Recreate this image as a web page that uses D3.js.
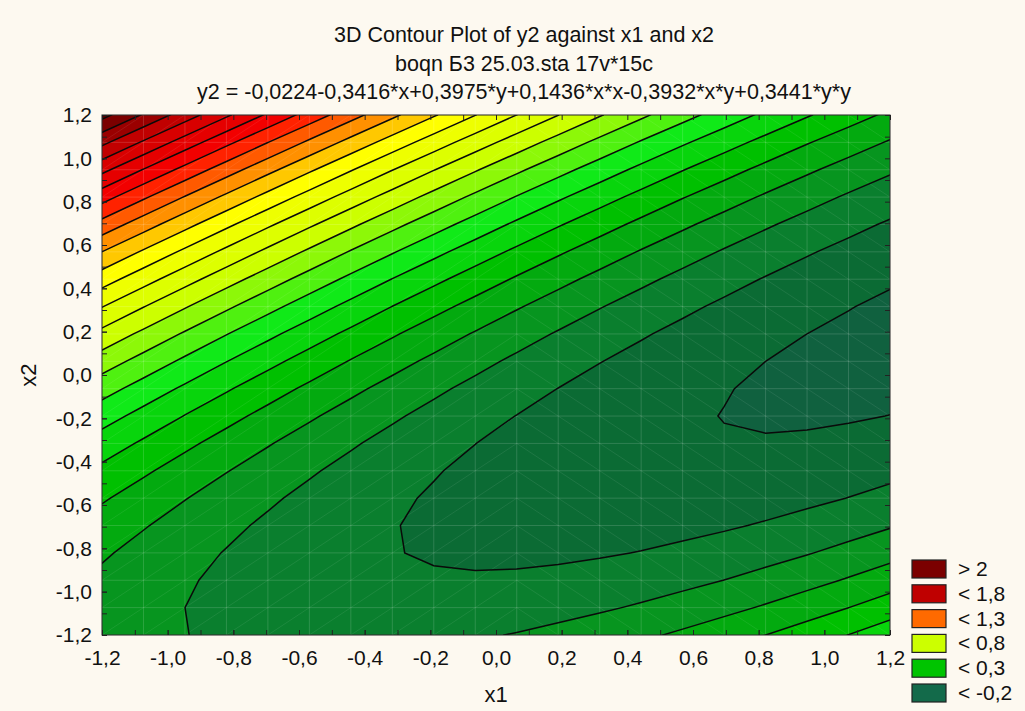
<!DOCTYPE html>
<meta charset="utf-8">
<head>
  <title>3D Contour Plot of y2 against x1 and x2</title>
</head>
<style>
body { margin: 0; background: #fdf9f0; }
text { font-family: "Liberation Sans", Arial, sans-serif; fill: #111; }
.tick line { stroke: #222; }
</style>
<body>
<script src="https://d3js.org/d3.v7.min.js"></script>
<script>

  // fitted surface, coefficients as printed in the title:
  // const, x, y, x*x, x*y, y*y
  var coef = [-0.0224, -0.3416, 0.3975, 0.1436, -0.3932, 0.3441];
  var gridN = 20; // sample points per axis

  // contour levels
  var levels = [-0.2, -0.1, 0.0, 0.1, 0.2, 0.3, 0.4, 0.5, 0.6, 0.7, 0.8, 0.9,
                1.0, 1.1, 1.2, 1.3, 1.4, 1.5, 1.6, 1.7, 1.8, 1.9, 2.0, 2.1];

  // colour stops of the spectrum (value at band middle -> colour)
  var stopValues = [-0.25, -0.15, -0.05, 0.25, 0.45, 0.75, 1.05, 1.15, 1.25, 1.35, 1.45,
                    1.55, 1.75, 1.85, 1.95, 2.05];
  var stopColors = ["#10613f", "#0b6b34", "#0a7f2e", "#00c000", "#10ea18", "#ccff00",
                    "#ffff00", "#ffc800", "#ff9000", "#ff5a00", "#ff2200",
                    "#f20000", "#d80000", "#c00000", "#9a0000", "#7b0000"];

  var majorTicks = [-1.2, -1.0, -0.8, -0.6, -0.4, -0.2, 0.0, 0.2, 0.4, 0.6, 0.8, 1.0, 1.2];
  var minorTicks = [-1.1, -0.9, -0.7, -0.5, -0.3, -0.1, 0.1, 0.3, 0.5, 0.7, 0.9, 1.1];

  var legendLabels = ["> 2", "< 1,8", "< 1,3", "< 0,8", "< 0,3", "< -0,2"];
  var legendColors = ["#7b0000", "#bf0000", "#ff6a00", "#ccff00", "#00c400", "#136a4a"];

  var titles = ["3D Contour Plot of y2 against x1 and x2",
                "boqn \u04113 25.03.sta 17v*15c",
                "y2 = -0,0224-0,3416*x+0,3975*y+0,1436*x*x-0,3932*x*y+0,3441*y*y"];

  var width = 1025, height = 711;
  var pLeft = 102, pRight = 890, pTop = 115, pBottom = 635;

  var svg = d3.select("body").append("svg")
    .attr("width", width)
    .attr("height", height);

  svg.append("rect").attr("width", width).attr("height", height).attr("fill", "#fdf9f0");

  var x = d3.scaleLinear().domain([-1.2, 1.2]).range([pLeft, pRight]);
  var y = d3.scaleLinear().domain([-1.2, 1.2]).range([pBottom, pTop]);
  var color = d3.scaleLinear().domain(stopValues).range(stopColors).interpolate(d3.interpolateRgb);

  var loc = d3.formatLocale({decimal: ",", thousands: " ", grouping: [3], currency: ["", ""], minus: "-"});
  var fmt = loc.format(".1f");

  // sample the surface, rows from top (x2 = 1.2) down
  function f(a, b) {
    return coef[0] + coef[1]*a + coef[2]*b + coef[3]*a*a + coef[4]*a*b + coef[5]*b*b;
  }
  var step = 2.4 / (gridN - 1);
  var values = new Array(gridN * gridN);
  for (var j = 0; j < gridN; j++) {
    for (var i = 0; i < gridN; i++) {
      values[j * gridN + i] = f(-1.2 + i * step, 1.2 - j * step);
    }
  }

  var contours = d3.contours().size([gridN, gridN]).thresholds(levels)(values);

  // contour grid coords -> pixels (sample i sits at i + 0.5)
  var gx = d3.scaleLinear().domain([0.5, gridN - 0.5]).range([pLeft, pRight]);
  var gy = d3.scaleLinear().domain([0.5, gridN - 0.5]).range([pTop, pBottom]);
  var path = d3.geoPath(d3.geoTransform({
    point: function(px, py) { this.stream.point(gx(px), gy(py)); }
  }));

  svg.append("clipPath").attr("id", "plotclip")
    .append("rect")
    .attr("x", pLeft).attr("y", pTop)
    .attr("width", pRight - pLeft).attr("height", pBottom - pTop);

  var g = svg.append("g").attr("clip-path", "url(#plotclip)");

  g.append("rect")
    .attr("x", pLeft).attr("y", pTop)
    .attr("width", pRight - pLeft).attr("height", pBottom - pTop)
    .attr("fill", color(-0.25));

  g.selectAll("path.band")
    .data(contours)
    .enter().append("path")
    .attr("class", "band")
    .attr("d", path)
    .attr("fill", function(d) { return color(d.value + 0.05); });

  // faint mesh of the fitting grid
  var mesh = g.append("g")
    .attr("stroke", "#ffffff")
    .attr("fill", "none");
  for (var k = 0; k < gridN; k++) {
    mesh.append("line")
      .attr("x1", gx(k + 0.5)).attr("x2", gx(k + 0.5))
      .attr("y1", pTop).attr("y2", pBottom)
      .attr("stroke-opacity", 0.15);
    mesh.append("line")
      .attr("y1", gy(k + 0.5)).attr("y2", gy(k + 0.5))
      .attr("x1", pLeft).attr("x2", pRight)
      .attr("stroke-opacity", 0.15);
  }
  for (var cj = 0; cj < gridN - 1; cj++) {
    for (var ci = 0; ci < gridN - 1; ci++) {
      var leftHalf = ci < (gridN - 1) / 2;
      mesh.append("line")
        .attr("x1", gx(ci + 0.5)).attr("x2", gx(ci + 1.5))
        .attr("y1", gy(leftHalf ? cj + 1.5 : cj + 0.5))
        .attr("y2", gy(leftHalf ? cj + 0.5 : cj + 1.5))
        .attr("stroke-opacity", 0.08);
    }
  }

  g.selectAll("path.line")
    .data(contours)
    .enter().append("path")
    .attr("class", "line")
    .attr("d", path)
    .attr("fill", "none")
    .attr("stroke", "#0a0a0a")
    .attr("stroke-width", 1.5);

  // axes: inward ticks every 0.1
  var allTicks = majorTicks.concat(minorTicks);

  var xAxis = svg.append("g")
    .attr("transform", "translate(0," + pBottom + ")")
    .call(d3.axisBottom(x).tickValues(majorTicks).tickSize(-5).tickPadding(15).tickFormat(fmt));
  xAxis.select(".domain").remove();
  xAxis.selectAll("text").style("font-size", "21px").attr("fill", "#111");

  var yAxis = svg.append("g")
    .attr("transform", "translate(" + pLeft + ",0)")
    .call(d3.axisLeft(y).tickValues(majorTicks).tickSize(-5).tickPadding(10).tickFormat(fmt));
  yAxis.select(".domain").remove();
  yAxis.selectAll("text").style("font-size", "21px").attr("fill", "#111");

  [[d3.axisBottom(x), "translate(0," + pBottom + ")"],
   [d3.axisLeft(y), "translate(" + pLeft + ",0)"],
   [d3.axisTop(x), "translate(0," + pTop + ")"],
   [d3.axisRight(y), "translate(" + pRight + ",0)"]].forEach(function(a) {
    var ax = svg.append("g")
      .attr("transform", a[1])
      .call(a[0].tickValues(allTicks).tickSize(-5).tickFormat(""));
    ax.select(".domain").remove();
  });

  svg.append("rect")
    .attr("x", pLeft).attr("y", pTop)
    .attr("width", pRight - pLeft).attr("height", pBottom - pTop)
    .attr("fill", "none")
    .attr("stroke", "#222")
    .attr("stroke-width", 1);

  // titles
  svg.selectAll("text.title")
    .data(titles)
    .enter().append("text")
    .attr("class", "title")
    .attr("x", 524)
    .attr("y", function(d, i) { return 42 + i * 28.5; })
    .attr("text-anchor", "middle")
    .style("font-size", "21.5px")
    .text(function(d) { return d; });

  svg.append("text")
    .attr("x", (pLeft + pRight) / 2)
    .attr("y", 702)
    .attr("text-anchor", "middle")
    .style("font-size", "22px")
    .text("x1");

  svg.append("text")
    .attr("transform", "translate(36," + ((pTop + pBottom) / 2) + ") rotate(-90)")
    .attr("text-anchor", "middle")
    .style("font-size", "22px")
    .text("x2");

  // legend
  var legend = svg.append("g").attr("transform", "translate(912,560)");
  var item = legend.selectAll("g")
    .data(legendLabels)
    .enter().append("g")
    .attr("transform", function(d, i) { return "translate(0," + (i * 24.8) + ")"; });
  item.append("rect")
    .attr("width", 34).attr("height", 18)
    .attr("fill", function(d, i) { return legendColors[i]; })
    .attr("stroke", "#222")
    .attr("stroke-width", 1.2);
  item.append("text")
    .attr("x", 46).attr("y", 16)
    .style("font-size", "21px")
    .text(function(d) { return d; });

</script>
</body>
